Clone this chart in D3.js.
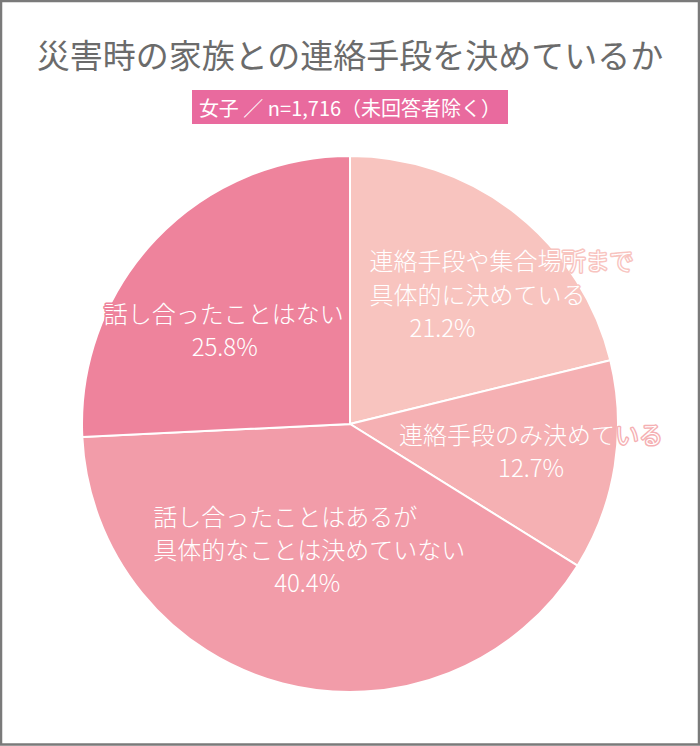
<html lang="ja">
  <head>
    <meta charset="UTF-8" />
    <title>災害時の家族との連絡手段を決めているか</title>
    <script src="https://d3js.org/d3.v7.min.js"></script>
  </head>
  <style>
    body {
      margin: 0;
      background: #fff;
    }

    svg {
      display: block;
      font-family: "Noto Sans CJK JP", "Noto Sans", sans-serif;
    }

    .title {
      font-size: 33px;
      fill: #6b6b6b;
    }

    .badge text {
      font-size: 20px;
      fill: #fff;
    }

    .label {
      font-size: 24px;
      font-weight: 300;
      fill: #fff;
      paint-order: stroke;
      stroke-width: 3px;
      stroke-linejoin: round;
    }
  </style>
  <body>
    <div id="viz"></div>
    <script>
      // data
      var categories = [
        "連絡手段や集合場所まで具体的に決めている",
        "連絡手段のみ決めている",
        "話し合ったことはあるが具体的なことは決めていない",
        "話し合ったことはない"
      ];
      var values = [21.2, 12.7, 40.4, 25.8];
      var labelLines = [
        ["連絡手段や集合場所まで", "具体的に決めている"],
        ["連絡手段のみ決めている"],
        ["話し合ったことはあるが", "具体的なことは決めていない"],
        ["話し合ったことはない"]
      ];
      var colors = ["#f8c4bf", "#f5b0b3", "#f29ca9", "#ee839c"];
      var titleText = "災害時の家族との連絡手段を決めているか";
      var subtitleText = "女子 ／ n=1,716（未回答者除く）";

      var width = 700,
        height = 746,
        cx = 350,
        cy = 424,
        radius = 268;

      // label nudges from the centroid: [dx, dy, anchor] per line, last one is the %
      var labelLayout = [
        [[-83, -34, "start"], [-83, 0, "start"], [-10, 33, "middle"]],
        [[17, -17, "middle"], [17, 16, "middle"]],
        [[-155, -69, "start"], [-155, -36, "start"], [-1, -3, "middle"]],
        [[-6, 3, "middle"], [-5, 36, "middle"]]
      ];

      var svg = d3
        .select("#viz")
        .append("svg")
        .attr("width", width)
        .attr("height", height);

      svg
        .append("rect")
        .attr("x", 1)
        .attr("y", 1)
        .attr("width", width - 2)
        .attr("height", height - 2.5)
        .attr("fill", "#fff")
        .attr("stroke", "#7a7a7a")
        .attr("stroke-width", 2.5);

      svg
        .append("text")
        .attr("class", "title")
        .attr("x", width / 2)
        .attr("y", 54)
        .attr("text-anchor", "middle")
        .attr("dominant-baseline", "central")
        .text(titleText);

      var badge = svg.append("g").attr("class", "badge");
      badge
        .append("rect")
        .attr("x", 192)
        .attr("y", 90)
        .attr("width", 316)
        .attr("height", 34)
        .attr("fill", "#e96a9e");
      badge
        .append("text")
        .attr("x", width / 2)
        .attr("y", 107)
        .attr("text-anchor", "middle")
        .attr("dominant-baseline", "central")
        .text(subtitleText);

      var pie = d3.pie().sort(null).value(function (d) {
        return d;
      });
      var arcs = pie(values);

      var arc = d3.arc().innerRadius(0).outerRadius(radius);
      var labelArc = d3
        .arc()
        .innerRadius(radius * 0.62)
        .outerRadius(radius * 0.62);

      var pieG = svg
        .append("g")
        .attr("transform", "translate(" + cx + "," + cy + ")");

      pieG
        .selectAll("path")
        .data(arcs)
        .enter()
        .append("path")
        .attr("d", arc)
        .attr("fill", function (d, i) {
          return colors[i];
        })
        .attr("stroke", "#fff")
        .attr("stroke-width", 2);

      var labelG = pieG
        .selectAll("g.lbl")
        .data(arcs)
        .enter()
        .append("g")
        .attr("class", "lbl")
        .attr("transform", function (d) {
          return "translate(" + labelArc.centroid(d) + ")";
        });

      labelG.each(function (d, i) {
        var g = d3.select(this);
        var lines = labelLines[i].concat([d3.format(".1f")(values[i]) + "%"]);
        lines.forEach(function (t, j) {
          var lay = labelLayout[i][j];
          g.append("text")
            .attr("class", "label")
            .attr("x", lay[0])
            .attr("y", lay[1])
            .attr("text-anchor", lay[2])
            .attr("dominant-baseline", "central")
            .attr("stroke", colors[i])
            .text(t);
        });
      });
    </script>
  </body>
</html>
